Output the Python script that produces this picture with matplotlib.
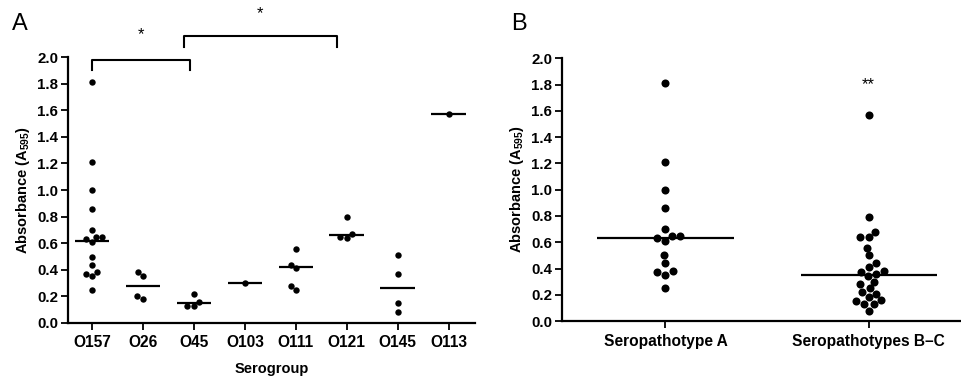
import matplotlib
matplotlib.use('Agg')
import numpy as np
import pandas as pd
import matplotlib.pyplot as plt
import seaborn as sns

# panel A: absorbance per serogroup
serogroups = ['O157', 'O26', 'O45', 'O103', 'O111', 'O121', 'O145', 'O113']
o157 = [1.81, 1.21, 1.00, 0.86, 0.70, 0.65, 0.63, 0.61, 0.65, 0.50, 0.44, 0.38, 0.35, 0.37, 0.25]
o26 = [0.38, 0.35, 0.20, 0.18]
o45 = [0.22, 0.16, 0.13, 0.13]
o103 = [0.30]
o111 = [0.56, 0.44, 0.41, 0.28, 0.25]
o121 = [0.80, 0.67, 0.65, 0.64]
o145 = [0.51, 0.37, 0.15, 0.08]
o113 = [1.57]
medians_a = [0.62, 0.28, 0.15, 0.30, 0.42, 0.66, 0.26, 1.57]

# panel B: absorbance per seropathotype
pathotypes = ['Seropathotype A', 'Seropathotypes B\u2013C']
patho_a = [1.81, 1.21, 1.00, 0.86, 0.70, 0.65, 0.63, 0.61, 0.65, 0.50, 0.44, 0.37, 0.35, 0.38, 0.25]
patho_bc = [1.57, 0.79, 0.68, 0.64, 0.64, 0.56, 0.50, 0.44, 0.41, 0.38, 0.37, 0.36, 0.34,
            0.30, 0.28, 0.25, 0.22, 0.21, 0.18, 0.16, 0.15, 0.13, 0.13, 0.08]
medians_b = [0.63, 0.35]

plt.rcParams['font.family'] = ['Liberation Sans', 'DejaVu Sans']
plt.rcParams['mathtext.default'] = 'regular'

ylabel = r'Absorbance (A$_{595}$)'
yticks = np.arange(0, 2.01, 0.2)


def style_axis(ax, xlim):
    ax.set_xlim(*xlim)
    ax.set_ylim(0, 2.0)
    ax.set_yticks(yticks)
    ax.set_yticklabels(['%.1f' % t for t in yticks])
    for s in ['top', 'right']:
        ax.spines[s].set_visible(False)
    for s in ['left', 'bottom']:
        ax.spines[s].set_linewidth(1.6)
    ax.tick_params(length=5, width=1.3, pad=2, direction='out')
    ax.tick_params(axis='y', labelsize=10.8)
    ax.tick_params(axis='x', labelsize=11.2, pad=4)
    for lab in ax.get_xticklabels() + ax.get_yticklabels():
        lab.set_fontweight('bold')
    ax.set_ylabel(ylabel, fontsize=10.5, fontweight='bold', labelpad=4)
    ax.grid(False)


fig = plt.figure(figsize=(9.62, 3.76), dpi=100)

# ---- panel A
groups = [o157, o26, o45, o103, o111, o121, o145, o113]
df_a = pd.DataFrame({
    'group': np.repeat(serogroups, [len(g) for g in groups]),
    'value': np.concatenate(groups),
})
ax1 = fig.add_axes([0.0707, 0.141, 0.4233, 0.707])
sns.swarmplot(data=df_a, x='group', y='value', order=serogroups, color='black',
              size=4.6, linewidth=0, ax=ax1)
ax1.hlines(medians_a, np.arange(len(serogroups)) - 0.34, np.arange(len(serogroups)) + 0.34,
           color='black', lw=1.6, zorder=1)
style_axis(ax1, (-0.47, 7.52))
ax1.set_xlabel('Serogroup', fontsize=10.5, fontweight='bold', labelpad=8)

# significance brackets
ax1.plot([0, 0, 1.92, 1.92], [1.905, 1.98, 1.98, 1.905], color='black', lw=1.5, clip_on=False)
ax1.text(0.96, 2.17, '*', ha='center', va='center', fontsize=12)
ax1.plot([1.8, 1.8, 4.8, 4.8], [2.08, 2.16, 2.16, 2.08], color='black', lw=1.5, clip_on=False)
ax1.text(3.3, 2.33, '*', ha='center', va='center', fontsize=12)

# ---- panel B
df_b = pd.DataFrame({
    'group': np.repeat(pathotypes, [len(patho_a), len(patho_bc)]),
    'value': np.concatenate([patho_a, patho_bc]),
})
ax2 = fig.add_axes([0.584, 0.146, 0.414, 0.699])
sns.swarmplot(data=df_b, x='group', y='value', order=pathotypes, color='black',
              size=5.8, linewidth=0, ax=ax2)
ax2.hlines(medians_b, np.arange(2) - 0.335, np.arange(2) + 0.335, color='black', lw=1.6, zorder=1)
style_axis(ax2, (-0.51, 1.45))
ax2.set_xlabel('')
ax2.text(1, 1.80, '**', ha='center', va='center', fontsize=12)

fig.text(0.012, 0.935, 'A', fontsize=17, ha='left', va='center')
fig.text(0.531, 0.935, 'B', fontsize=17, ha='left', va='center')

fig.savefig('out.png', dpi=100)
